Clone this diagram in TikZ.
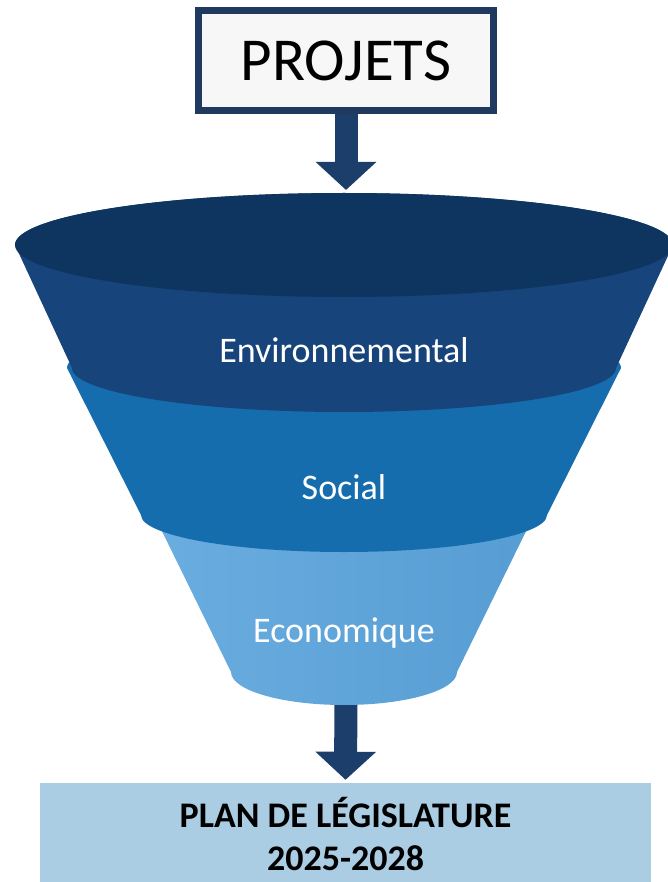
\documentclass[tikz,border=0pt]{standalone}
\usepackage{fontspec}
\setmainfont{Carlito}
\usetikzlibrary{arrows.meta}

\definecolor{navy}{HTML}{0E3560}
\definecolor{envblue}{HTML}{17447A}
\definecolor{socblue}{HTML}{166DAE}
\definecolor{ecoleft}{HTML}{6AADE0}
\definecolor{ecoright}{HTML}{569DD3}
\definecolor{arrowblue}{HTML}{1B3E6B}
\definecolor{boxframe}{HTML}{1F3A5E}
\definecolor{planblue}{HTML}{AACDE3}

\begin{document}
\begin{tikzpicture}[x=1pt,y=1pt,
  layer/.style={anchor=base, text=white, font=\fontsize{36}{40}\selectfont},
  bigarrow/.style={draw=arrowblue, line width=23pt, -{Triangle[width=59pt,length=28pt]}}]
  \useasboundingbox (0,0) rectangle (667,-882);

  \node[draw=boxframe, line width=7pt, fill=black!3, minimum width=295pt, minimum height=100pt,
    inner sep=0pt, font=\fontsize{61}{61}\selectfont] (projets) at (346,-60.5) {PROJETS};
  \node[fill=planblue, minimum width=611pt, minimum height=99pt, inner sep=0pt,
    label={[align=center, yshift=-2pt, font=\bfseries\fontsize{36}{43}\selectfont]center:PLAN DE LÉGISLATURE\\2025-2028}]
    (plan) at (345.5,-832.5) {};
  \coordinate (intake) at (346,-190);
  \coordinate (spout) at (346,-690);

  \draw[bigarrow] (projets.south) -- (intake);
  \draw[bigarrow, shorten >=3pt] (spout) -- (plan.north);

  % funnel, lowest layer first
  \path[left color=ecoleft, right color=ecoright] (155,-517) -- (231,-672)
    arc[start angle=180, end angle=360, x radius=113, y radius=33] -- (533,-517)
    arc[start angle=0, end angle=180, x radius=189, y radius=36] -- cycle;
  \fill[socblue] (67,-368) -- (141,-515)
    arc[start angle=180, end angle=360, x radius=203, y radius=37] -- (621,-368)
    arc[start angle=0, end angle=180, x radius=277, y radius=44] -- cycle;
  \fill[envblue] (15,-245) -- (72,-368)
    arc[start angle=180, end angle=360, x radius=272, y radius=44] -- (673,-245)
    arc[start angle=0, end angle=180, x radius=329, y radius=52] -- cycle;
  \fill[navy] (344,-245) ellipse[x radius=329, y radius=52];

  \node[layer] (env) at (344,-362) {Environnemental};
  \node[layer] (social) at (344,-499) {Social};
  \node[layer] (eco) at (344,-642) {Economique};
\end{tikzpicture}
\end{document}
